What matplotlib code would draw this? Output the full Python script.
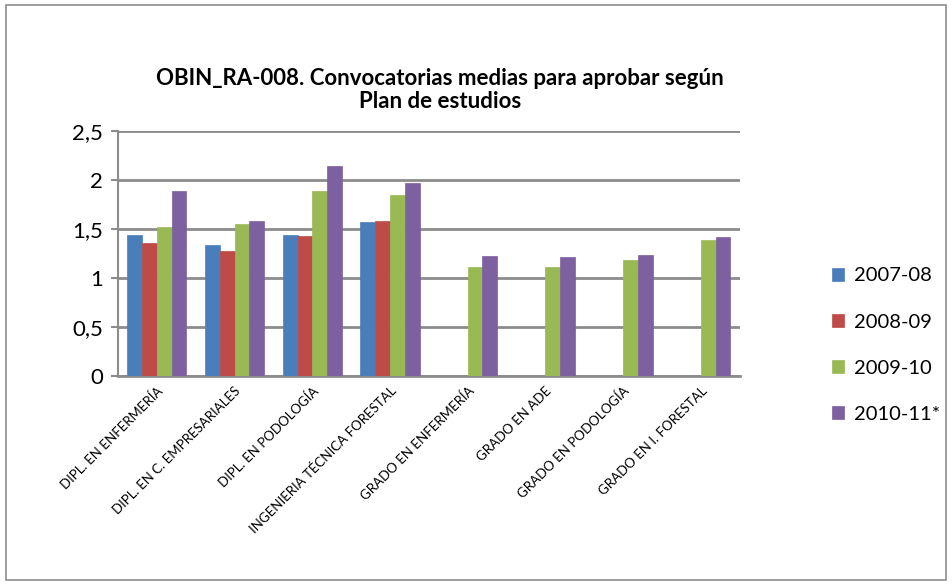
import numpy as np
import matplotlib.pyplot as plt
from matplotlib.patches import Rectangle

plt.rcParams["font.family"] = ["Lato", "DejaVu Sans"]

categories = [
    "DIPL. EN ENFERMERÍA",
    "DIPL. EN C. EMPRESARIALES",
    "DIPL. EN PODOLOGÍA",
    "INGENIERIA TÉCNICA FORESTAL",
    "GRADO EN ENFERMERÍA",
    "GRADO EN ADE",
    "GRADO EN PODOLOGÍA",
    "GRADO EN I. FORESTAL",
]
series_names = ["2007-08", "2008-09", "2009-10", "2010-11*"]
v2007 = [1.44, 1.34, 1.44, 1.57, np.nan, np.nan, np.nan, np.nan]
v2008 = [1.36, 1.28, 1.43, 1.58, np.nan, np.nan, np.nan, np.nan]
v2009 = [1.52, 1.55, 1.89, 1.85, 1.11, 1.11, 1.18, 1.39]
v2010 = [1.89, 1.58, 2.14, 1.97, 1.23, 1.22, 1.24, 1.42]
colors = ["#4a7ebb", "#be4b48", "#98b954", "#7d60a0"]

fig = plt.figure(figsize=(9.52, 5.85), dpi=100)
fig.patches.append(Rectangle((0.006, 0.008), 0.988, 0.984, transform=fig.transFigure,
                             fill=False, edgecolor="#8c8c8c", linewidth=1.2))
ax = fig.add_axes([0.124, 0.357, 0.653, 0.419])

x = np.arange(len(categories))
w = 0.19
for i, (vals, name) in enumerate(zip([v2007, v2008, v2009, v2010], series_names)):
    ax.bar(x + (i - 1.5) * w, vals, width=w, color=colors[i], label=name,
           edgecolor=colors[i], linewidth=0.5, zorder=3)

ax.set_xlim(-0.5, len(categories) - 0.5)
ax.set_ylim(0, 2.5)
ax.set_yticks([0, 0.5, 1, 1.5, 2, 2.5])
ax.set_yticklabels(["0", "0,5", "1", "1,5", "2", "2,5"], fontsize=16)
ax.yaxis.grid(True, color="#8c8c8c", linewidth=2)
ax.set_axisbelow(True)
ax.set_xticks(x)
ax.set_xticklabels(categories, rotation=45, ha="right", rotation_mode="anchor",
                   fontsize=9.5)
ax.tick_params(axis="x", length=0, pad=6)
ax.tick_params(axis="y", length=5, color="#8c8c8c", width=1.5, pad=6)
for s in ["top", "right"]:
    ax.spines[s].set_visible(False)
ax.spines["left"].set_color("#8c8c8c")
ax.spines["left"].set_linewidth(1.5)
ax.spines["bottom"].set_color("#8c8c8c")
ax.spines["bottom"].set_linewidth(2)

fig.text(0.462, 0.846, "OBIN_RA-008. Convocatorias medias para aprobar según\nPlan de estudios",
         ha="center", va="center", fontsize=16, fontweight="bold", linespacing=1.15)

fig.legend(loc="center left", bbox_to_anchor=(0.855, 0.41), frameon=False,
           fontsize=14.5, handlelength=0.6, handleheight=0.6, handletextpad=0.5,
           labelspacing=1.45)

fig.savefig("out.png", dpi=100)
